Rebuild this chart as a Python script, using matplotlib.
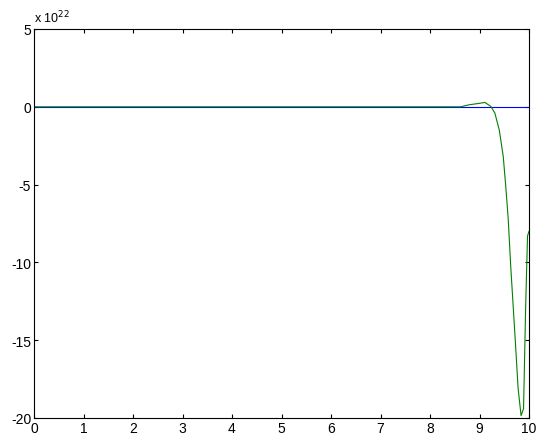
import matplotlib.pyplot as plt

plt.rcParams['font.family'] = ['Liberation Sans', 'DejaVu Sans']

# blue trace: flat zero across the whole interval
t_blue = [0, 10]
y_blue = [0, 0]

# green trace (units of 1e22)
t_green = [0, 8.62, 8.79, 8.95, 9.11, 9.23, 9.31, 9.40, 9.48, 9.53, 9.58,
           9.63, 9.68, 9.73, 9.78, 9.84, 9.89, 9.93, 9.97, 10.0]
y_green = [0, 0, 0.13, 0.2, 0.28, 0.02, -0.4, -1.5, -3.2, -5.1, -7.2,
           -10.2, -12.8, -15.4, -18.1, -19.85, -19.4, -13.2, -8.3, -8.0]

xticks = list(range(0, 11))
yticks = [5, 0, -5, -10, -15, -20]

fig = plt.figure(figsize=(5.36, 4.39), dpi=100)
ax = fig.add_axes([34 / 536, 1 - 419 / 439, (529 - 34) / 536, (419 - 30) / 439])

ax.plot(t_blue, y_blue, color='#0000ff', lw=0.8)
ax.plot(t_green, y_green, color='#008000', lw=0.8)

ax.set_xlim(0, 10)
ax.set_ylim(-20, 5)
ax.set_xticks(xticks)
ax.set_yticks(yticks)
ax.set_xticklabels([str(v) for v in xticks])
ax.set_yticklabels([str(v) for v in yticks])
ax.tick_params(direction='in', top=True, right=True, length=3, width=0.8,
               labelsize=10, pad=2)
for s in ax.spines.values():
    s.set_linewidth(0.8)

ax.text(0.0, 1.01, r'x 10$^{22}$', transform=ax.transAxes, fontsize=9,
        ha='left', va='bottom')

fig.savefig('out.png', dpi=100)
